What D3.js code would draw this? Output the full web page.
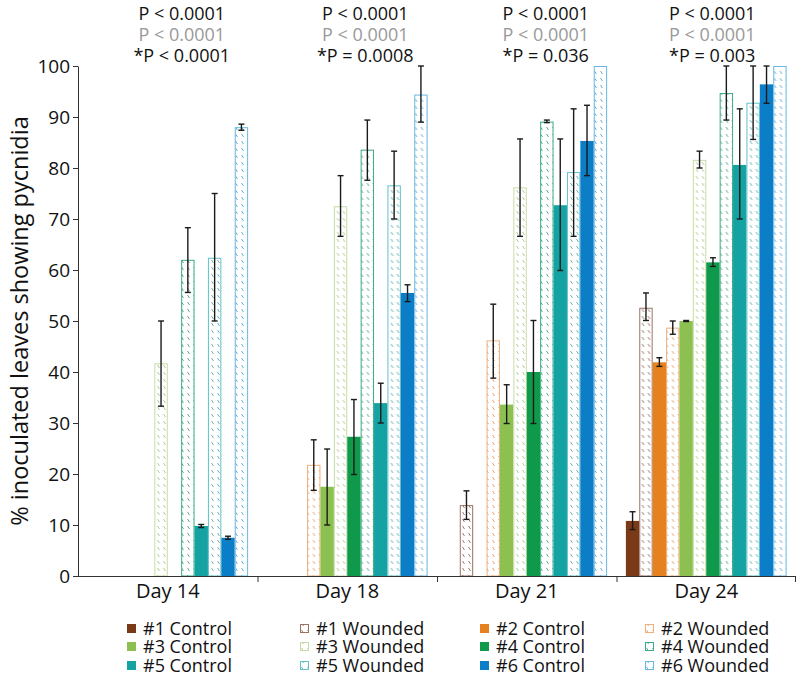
<!DOCTYPE html>
<html><head><meta charset="utf-8">
<script src="https://cdn.jsdelivr.net/npm/d3@7"></script>
<style>body{margin:0;background:#fff}svg{display:block;font-family:"Open Sans",sans-serif}</style>
</head><body><svg id="c" width="797" height="678"></svg>
<script>
const days = ["Day 14", "Day 18", "Day 21", "Day 24"];
const series = ["#1 Control", "#1 Wounded", "#2 Control", "#2 Wounded", "#3 Control", "#3 Wounded",
                "#4 Control", "#4 Wounded", "#5 Control", "#5 Wounded", "#6 Control", "#6 Wounded"];
// mean values per day, in series order
const mean14 = [0, 0, 0, 0, 0, 41.7, 0, 62.0, 9.8, 62.4, 7.5, 88.0];
const mean18 = [0, 0, 0, 21.8, 17.5, 72.5, 27.3, 83.6, 33.9, 76.6, 55.5, 94.4];
const mean21 = [0, 13.9, 0, 46.2, 33.6, 76.2, 40.0, 89.1, 72.7, 79.2, 85.3, 100];
const mean24 = [10.8, 52.6, 41.9, 48.7, 50.0, 81.6, 61.5, 94.7, 80.6, 92.8, 96.4, 100];
// error bar low / high per day
const lo14 = [null, null, null, null, null, 33.3, null, 55.6, 9.5, 50.0, 7.2, 87.4];
const hi14 = [null, null, null, null, null, 50.0, null, 68.3, 10.1, 75.0, 7.8, 88.6];
const lo18 = [null, null, null, 16.8, 10.0, 66.6, 19.9, 77.6, 30.0, 70.0, 53.8, 89.0];
const hi18 = [null, null, null, 26.7, 24.9, 78.5, 34.6, 89.4, 37.8, 83.3, 57.1, 100];
const lo21 = [null, 11.1, null, 38.8, 29.9, 66.6, 29.9, 88.9, 59.9, 66.6, 78.5, null];
const hi21 = [null, 16.7, null, 53.3, 37.5, 85.7, 50.1, 89.4, 85.7, 91.6, 92.3, null];
const lo24 = [9.1, 50.1, 41.1, 47.4, 49.9, 80.0, 60.7, 89.4, 70.0, 85.6, 92.7, null];
const hi24 = [12.6, 55.5, 42.8, 50.0, 50.1, 83.3, 62.4, 100, 91.6, 100, 100, null];
const yTicks = [0, 10, 20, 30, 40, 50, 60, 70, 80, 90, 100];
const pLine1 = ["P < 0.0001", "P < 0.0001", "P < 0.0001", "P < 0.0001"];
const pLine2 = ["P < 0.0001", "P < 0.0001", "P < 0.0001", "P < 0.0001"];
const pLine3 = ["*P < 0.0001", "*P = 0.0008", "*P = 0.036", "*P = 0.003"];
const yTitle = "% inoculated leaves showing pycnidia";

// styles
const solidCol = ["#7a3a17", "#e6811f", "#8cc152", "#0e9a4a", "#14a3a2", "#0b7ec7"];
const woundStroke = ["#9a7262", "#f0b07c", "#c6dca4", "#3aac84", "#62c2c9", "#67b8e2"];
const woundHatch = ["#8f6d60", "#e49b6a", "#a9c489", "#4e9e86", "#5fa9b3", "#5da2cc"];

const means = [mean14, mean18, mean21, mean24];
const los = [lo14, lo18, lo21, lo24];
const his = [hi14, hi18, hi21, hi24];

const svg = d3.select("#c");
const X0 = 78, X1 = 796, Y0 = 576, Y1 = 66;
const y = d3.scaleLinear().domain([0, 100]).range([Y0, Y1]);
const x = d3.scaleBand().domain(days).range([X0, X1]).padding(0);
const xs = d3.scaleBand().domain(series).range([0, x.bandwidth()]).paddingInner(0).paddingOuter(0.7);

// patterns
const defs = svg.append("defs");
solidCol.forEach((c, i) => {
  const p = defs.append("pattern").attr("id", "h" + i).attr("patternUnits", "userSpaceOnUse")
    .attr("width", 6).attr("height", 7);
  p.append("rect").attr("width", 6).attr("height", 7).attr("fill", "#fff");
  p.append("line").attr("x1", 1.5).attr("y1", 1).attr("x2", 3.5).attr("y2", 4)
    .attr("stroke", woundHatch[i]).attr("stroke-width", 0.9);
});

const isW = s => s.includes("Wounded");
const gi = s => Math.floor(series.indexOf(s) / 2);

// bars
days.forEach((d, di) => {
  const g = svg.append("g").attr("transform", `translate(${x(d)},0)`);
  series.forEach((s, si) => {
    const v = means[di][si];
    if (!v) return;
    const k = gi(s);
    const r = g.append("rect").attr("x", xs(s)).attr("y", y(v))
      .attr("width", xs.bandwidth()).attr("height", y(0) - y(v));
    if (isW(s)) {
      r.attr("fill", `url(#h${k})`).attr("stroke", woundStroke[k]).attr("stroke-width", 1)
       .attr("x", xs(s) + 0.5).attr("width", xs.bandwidth() - 1).attr("y", y(v) + 0.5).attr("height", y(0) - y(v) - 0.5);
    } else {
      r.attr("fill", solidCol[k]);
    }
  });
  series.forEach((s, si) => {
    const lo = los[di][si], hi = his[di][si];
    if (lo == null) return;
    const cx = xs(s) + xs.bandwidth() / 2;
    const eg = g.append("g").attr("stroke", "#1a1a1a").attr("stroke-width", 1.4);
    eg.append("line").attr("x1", cx).attr("x2", cx).attr("y1", y(lo)).attr("y2", y(hi));
    [lo, hi].forEach(v => eg.append("line").attr("x1", cx - 3).attr("x2", cx + 3).attr("y1", y(v)).attr("y2", y(v)));
  });
});

// y axis
const ya = svg.append("g").attr("transform", `translate(${X0},0)`)
  .call(d3.axisLeft(y).tickValues(yTicks).tickSize(5).tickSizeOuter(0));
ya.select(".domain").attr("stroke", "#333");
ya.selectAll(".tick line").attr("stroke", "#333");
ya.selectAll(".tick text").attr("font-size", 19).attr("font-family", "Open Sans").attr("fill", "#111").attr("x", -8).attr("dy", "0.34em");

// x axis
const xa = svg.append("g").attr("stroke", "#333").attr("stroke-width", 1);
xa.append("line").attr("x1", X0).attr("x2", X1 - 1).attr("y1", Y0 + 0.5).attr("y2", Y0 + 0.5);
days.slice(1).concat([null]).forEach(d => {
  const xx = d ? x(d) : X1 - 1;
  xa.append("line").attr("x1", xx + 0.5).attr("x2", xx + 0.5).attr("y1", Y0).attr("y2", Y0 + 6);
});
svg.append("g").selectAll("text").data(days).join("text")
  .attr("x", d => x(d) + x.bandwidth() / 2).attr("y", 598)
  .attr("text-anchor", "middle").attr("font-size", 20).attr("fill", "#111").text(d => d);

// y title
svg.append("text").attr("transform", `translate(28,${(Y0 + Y1) / 2}) rotate(-90)`)
  .attr("text-anchor", "middle").attr("font-size", 23.5).attr("fill", "#111").text(yTitle);

// p-values
const pShift = [14, 18, 19, 6];
days.forEach((d, di) => {
  const cx = x(d) + x.bandwidth() / 2 + pShift[di];
  [[pLine1, "#111", 20], [pLine2, "#999", 41], [pLine3, "#111", 62]].forEach(([arr, col, yy]) => {
    svg.append("text").attr("x", cx).attr("y", yy).attr("text-anchor", "middle")
      .attr("font-size", 18).attr("fill", col).text(arr[di]);
  });
});

// legend
const legOrder = [0, 4, 8, 1, 5, 9, 2, 6, 10, 3, 7, 11];
const colX = [127, 300, 480, 645];
const rowY = [629, 647, 666];
legOrder.forEach((si, j) => {
  const s = series[si];
  const c = Math.floor(j / 3), r = j % 3;
  const k = gi(s);
  const lg = svg.append("g").attr("transform", `translate(${colX[c]},${rowY[r]})`);
  if (isW(s)) {
    lg.append("rect").attr("x", 0.5).attr("y", -4.5).attr("width", 8).attr("height", 8)
      .attr("fill", `url(#h${k})`).attr("stroke", woundStroke[k]);
  } else {
    lg.append("rect").attr("x", 0).attr("y", -5).attr("width", 9).attr("height", 9).attr("fill", solidCol[k]);
  }
  lg.append("text").attr("x", 16).attr("y", 0).attr("dy", "0.35em").attr("font-size", 18)
    .attr("fill", "#111").text(s);
});
</script></body></html>
